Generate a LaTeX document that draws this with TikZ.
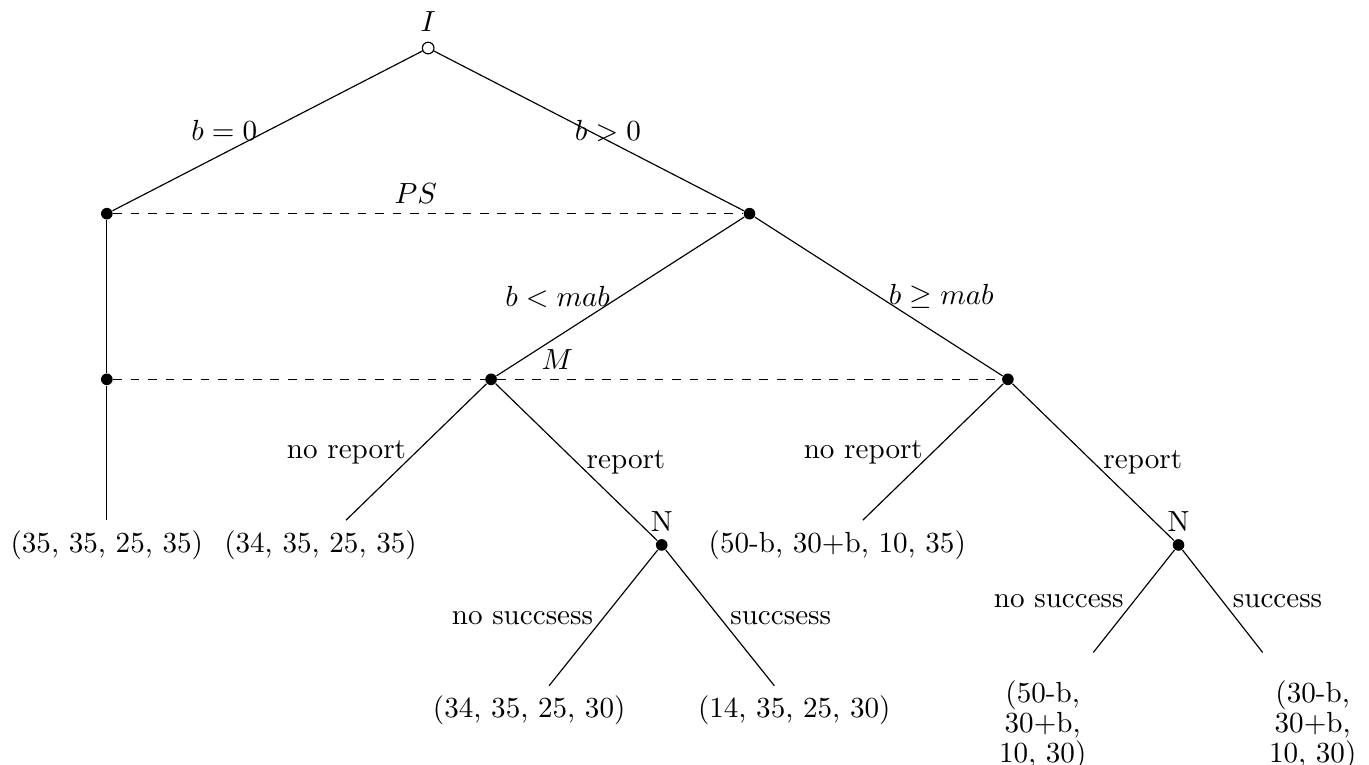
\documentclass[tikz,border=0pt]{standalone}

\begin{document}
\begin{tikzpicture}[
    dot/.style={circle, fill=black, inner sep=0pt, minimum size=4pt},
    hollow/.style={circle, draw, fill=white, inner sep=0pt, minimum size=4pt},
    stack/.style={text width=1.2cm, align=center, text height=13.5pt,
      font=\linespread{0.72}\selectfont}
  ]
    \useasboundingbox (-5.17,0.58) rectangle (11.36,-8.65);

    % decision nodes
    \node[hollow, label=above:$I$] (I) at (0,0) {};
    \node[dot] (PSl) at (-3.88,-2) {};
    \node[dot] (PSr) at (3.88,-2) {};
    \node[dot] (Ml) at (-3.88,-4) {};
    \node[dot] (Mc) at (0.76,-4) {};
    \node[dot] (Mr) at (7,-4) {};
    \node[dot, label={[label distance=-1pt]above:N}] (Nl) at (2.82,-6) {};
    \node[dot, label={[label distance=-1pt]above:N}] (Nr) at (9.06,-6) {};

    % payoffs
    \node (p1) at (-3.88,-6) {(35, 35, 25, 35)};
    \node (p2) at (-1.3,-6) {(34, 35, 25, 35)};
    \node (p3) at (4.94,-6) {(50-b, 30+b, 10, 35)};
    \node (p4) at (1.22,-8) {(34, 35, 25, 30)};
    \node (p5) at (4.42,-8) {(14, 35, 25, 30)};
    \node[stack] (p6) at (7.42,-8.07) {(50-b, 30+b, 10, 30)};
    \node[stack] (p7) at (10.68,-8.07) {(30-b, 30+b, 10, 30)};

    \draw (I) -- node[left] {$b=0$} (PSl);
    \draw (I) -- node[midway, xshift=0.23cm] {$b>0$} (PSr);
    \draw[dashed] (PSl) -- node[above, xshift=-0.15cm] {$PS$} (PSr);

    \draw (PSl) -- (Ml);
    \draw (PSr) -- node[left] {$b<mab$} (Mc);
    \draw (PSr) -- node[right] {$b\geq mab$} (Mr);
    \draw[dashed] (Ml) -- node[above] {$M$} (Mr);

    \draw (Ml) -- (p1);
    \draw (Mc) -- node[left] {no report} (p2);
    \draw (Mc) -- node[right] {report} (Nl);
    \draw (Mr) -- node[left] {no report} (p3);
    \draw (Mr) -- node[right] {report} (Nr);

    \draw (Nl) -- node[left] {no succsess} (p4);
    \draw (Nl) -- node[right] {succsess} (p5);
    \draw (Nr) -- node[left] {no success} (p6);
    \draw (Nr) -- node[right] {success} (p7);
\end{tikzpicture}
\end{document}
